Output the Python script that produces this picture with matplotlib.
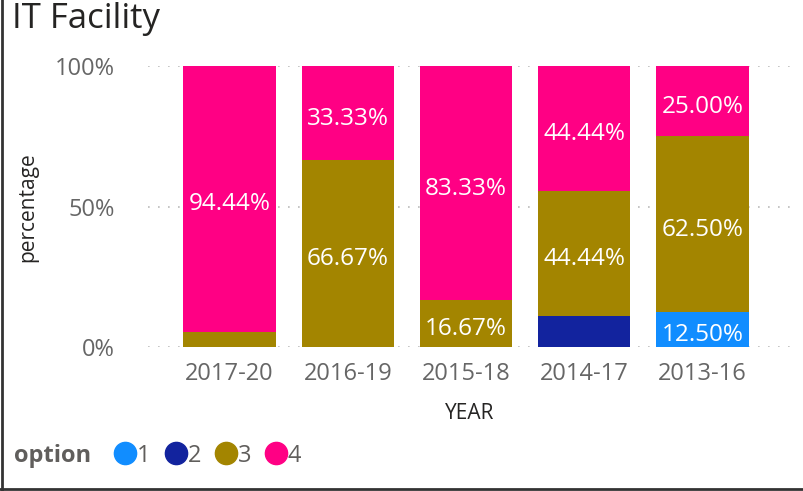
import matplotlib.pyplot as plt
from matplotlib.lines import Line2D

plt.rcParams['font.family'] = ['Open Sans', 'DejaVu Sans']

years = ['2017-20', '2016-19', '2015-18', '2014-17', '2013-16']
options = ['1', '2', '3', '4']
opt1 = [0, 0, 0, 0, 12.50]
opt2 = [0, 0, 0, 11.11, 0]
opt3 = [5.56, 66.67, 16.67, 44.44, 62.50]
opt4 = [94.44, 33.33, 83.33, 44.44, 25.00]
colors = ['#118DFF', '#12239E', '#A38500', '#FF0084']

fig = plt.figure(figsize=(8.04, 4.91), dpi=100)
ax = fig.add_axes([0.184, 0.293, 0.800, 0.572])

x = list(range(len(years)))
bottom = [0] * len(years)
for vals, c in zip([opt1, opt2, opt3, opt4], colors):
    ax.bar(x, vals, bottom=bottom, color=c, width=0.78, zorder=2)
    for i, v in enumerate(vals):
        if v >= 12:
            ax.annotate('%.2f%%' % v, (i, bottom[i] + v / 2), xytext=(0, -4),
                        textcoords='offset points', ha='center', va='center',
                        color='white', fontsize=17.5, zorder=3)
    bottom = [b + v for b, v in zip(bottom, vals)]

ax.set_xlim(-0.69, 4.75)
ax.set_ylim(0, 100)
ax.set_yticks([0, 50, 100])
ax.set_yticklabels(['0%', '50%', '100%'])
ax.set_xticks(x)
ax.set_xticklabels(years)
ax.tick_params(axis='both', length=0, labelsize=17, colors='#666666')
ax.tick_params(axis='y', pad=24)
ax.tick_params(axis='x', pad=11)
ax.grid(axis='y', color='#bbbbbb', linestyle=(0, (1, 5)), linewidth=1.2, zorder=0)
for s in ax.spines.values():
    s.set_visible(False)

ax.set_xlabel('YEAR', fontsize=15, color='#252423', labelpad=12)
ax.set_ylabel('percentage', fontsize=15, color='#252423', labelpad=12)

fig.text(0.015, 0.962, 'IT Facility', fontsize=25, color='#252423', va='center')

# legend
fig.text(0.018, 0.072, 'option', fontsize=17, fontweight='bold', color='#605E5C', va='center')
handles = [Line2D([0], [0], marker='o', linestyle='', markersize=16,
                  markerfacecolor=c, markeredgecolor=c) for c in colors]
fig.legend(handles, options, loc='center left', bbox_to_anchor=(0.112, 0.072),
           ncol=4, frameon=False, fontsize=17, labelcolor='#605E5C',
           handletextpad=-0.1, columnspacing=0.45, handlelength=1.2)

# frame on left and bottom
fig.add_artist(Line2D([0.003, 0.003], [0, 1], color='#333333', linewidth=2,
                      transform=fig.transFigure))
fig.add_artist(Line2D([0, 1], [0.004, 0.004], color='#333333', linewidth=2,
                      transform=fig.transFigure))

fig.savefig('out.png', dpi=100)
